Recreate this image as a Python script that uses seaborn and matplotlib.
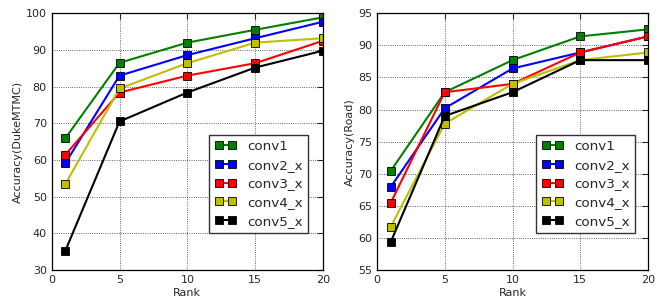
import seaborn as sns
import matplotlib.pyplot as plt

# Rank-k accuracy per feature layer
ranks = [1, 5, 10, 15, 20]
names = ["conv1", "conv2_x", "conv3_x", "conv4_x", "conv5_x"]
colors = ["#008000", "#0000ff", "#ff0000", "#bfbf00", "#000000"]

duke_conv1 = [65.9, 86.5, 92.0, 95.5, 98.9]
duke_conv2 = [59.1, 83.0, 88.6, 93.2, 97.7]
duke_conv3 = [61.4, 78.4, 83.0, 86.4, 92.5]
duke_conv4 = [53.4, 79.5, 86.4, 92.0, 93.2]
duke_conv5 = [35.2, 70.5, 78.4, 85.2, 89.8]

road_conv1 = [70.4, 82.7, 87.7, 91.4, 92.5]
road_conv2 = [67.9, 80.2, 86.4, 88.9, 91.4]
road_conv3 = [65.4, 82.7, 84.0, 88.9, 91.4]
road_conv4 = [61.7, 77.8, 84.0, 87.7, 88.9]
road_conv5 = [59.3, 79.0, 82.7, 87.7, 87.7]

duke = [duke_conv1, duke_conv2, duke_conv3, duke_conv4, duke_conv5]
road = [road_conv1, road_conv2, road_conv3, road_conv4, road_conv5]

sns.set_style("white")
plt.rcParams["font.family"] = ["DejaVu Sans"]

fig = plt.figure(figsize=(6.64, 3.02), dpi=100)
ax1 = fig.add_axes([51.7 / 664, 32 / 302, 271.3 / 664, 256.7 / 302])
ax2 = fig.add_axes([377 / 664, 32 / 302, 271 / 664, 256.7 / 302])


def draw(ax, data, ylim, yticks, ylabel, legx):
    for vals, name, c in zip(data, names, colors):
        sns.lineplot(x=ranks, y=vals, ax=ax, color=c, marker="s", markersize=5.5,
                     markeredgecolor="k", markeredgewidth=0.6, linewidth=1.5, label=name)
    ax.set_xlim(0, 20)
    ax.set_ylim(*ylim)
    ax.set_xticks([0, 5, 10, 15, 20])
    ax.set_yticks(yticks)
    ax.grid(True, linestyle=":", color="k", linewidth=0.6, alpha=0.8)
    ax.tick_params(direction="in", top=True, right=True, length=4, labelsize=8, width=0.8)
    for s in ax.spines.values():
        s.set_color("k")
        s.set_linewidth(0.9)
    ax.set_xlabel("Rank", fontsize=8, labelpad=2)
    ax.set_ylabel(ylabel, fontsize=8, labelpad=2)
    leg = ax.legend(loc="lower right", bbox_to_anchor=(legx, 0.144), fontsize=9.7,
                    numpoints=2, fancybox=False, framealpha=1, edgecolor="#333333",
                    handlelength=1.6, borderaxespad=0, labelspacing=0.42)
    leg.get_frame().set_linewidth(1.0)


draw(ax1, duke, (30, 100), range(30, 101, 10), "Accuracy(DukeMTMC)", 0.945)
draw(ax2, road, (55, 95), range(55, 96, 5), "Accuracy(Road)", 0.952)

fig.savefig("out.png", dpi=100)
